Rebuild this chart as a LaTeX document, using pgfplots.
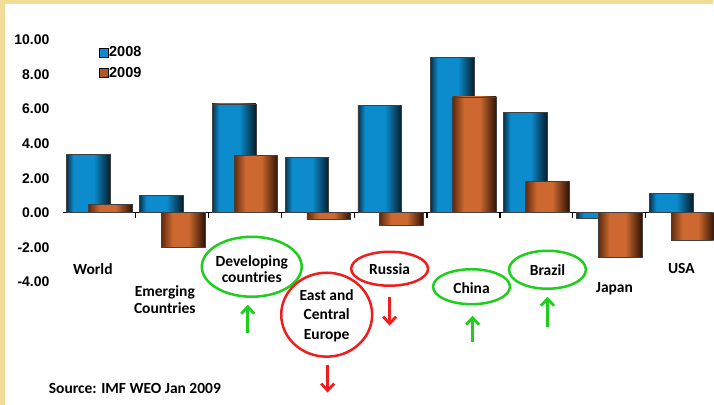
\documentclass[border=0pt]{standalone}
\usepackage{pgfplots}
\pgfplotsset{compat=1.18}
\usepackage{fontspec}
\setmainfont{Carlito}
\newfontfamily\arialf{Liberation Sans}
\usetikzlibrary{shapes.geometric,arrows.meta}
\definecolor{bgyel}{RGB}{241,221,152}
\definecolor{bdark}{RGB}{8,50,78}
\definecolor{bvdark}{RGB}{6,28,42}
\definecolor{bmid}{RGB}{12,140,205}
\definecolor{odark}{RGB}{95,42,14}
\definecolor{ovdark}{RGB}{45,18,5}
\definecolor{omid}{RGB}{205,105,48}
\definecolor{gr}{RGB}{30,205,30}
\definecolor{rd}{RGB}{238,30,30}
\pgfdeclarehorizontalshading{blueshade}{100bp}{color(0bp)=(bdark); color(25bp)=(bdark); color(33bp)=(bmid); color(56bp)=(bmid); color(75bp)=(bvdark); color(100bp)=(bvdark)}
\pgfdeclarehorizontalshading{orangeshade}{100bp}{color(0bp)=(odark); color(25bp)=(odark); color(38bp)=(omid); color(56bp)=(omid); color(75bp)=(ovdark); color(100bp)=(ovdark)}
\pgfplotsset{
  b08/.style={ybar, bar width=0.6, bar shift=-0.15, draw=black!75, line width=0.6pt, shading=blueshade, forget plot},
  b09/.style={ybar, bar width=0.6, bar shift=0.15, draw=black!75, line width=0.6pt, shading=orangeshade, forget plot},
}
\begin{document}
\begin{tikzpicture}[x=1pt,y=1pt]
\fill[white] (0,0) rectangle (714,405);
\fill[bgyel] (0,401) rectangle (714,405);
\fill[bgyel] (0,0) rectangle (5,405);
\begin{axis}[
  at={(63pt,122.8pt)}, anchor=south west,
  scale only axis, width=651pt, height=242.2pt,
  xmin=-0.5, xmax=8.43, ymin=-4, ymax=10,
  axis x line=middle, axis y line=left,
  x axis line style={-, black, line width=1.4pt},
  y axis line style={draw=none},
  hide obscured y ticks=false,
  xtick={-0.5,0.5,...,7.5}, xticklabels={},
  xtick style={black, line width=1.4pt},
  major tick length=5pt, tick align=outside,
  ytick={-4,-2,...,10},
  ytick style={draw=none},
  yticklabel style={font=\arialf\bfseries\fontsize{14}{14}\selectfont, xshift=-5pt},
  /pgf/number format/.cd, fixed, fixed zerofill, precision=2, assume math mode=true,
  /pgfplots/.cd,
  legend style={draw=none, fill=none, at={(0.05,0.99)}, anchor=north west,
    font=\arialf\bfseries\fontsize{14.5}{14.5}\selectfont, row sep=5pt,
    nodes={inner xsep=1pt}},
  legend cell align=left,
]
\addlegendimage{legend image code/.code={\draw[black, line width=0.5pt, fill=bmid] (0pt,-4.5pt) rectangle (9pt,4.5pt);}}
\addlegendentry{2008}
\addlegendimage{legend image code/.code={\draw[black, line width=0.5pt, fill=omid!85!black] (0pt,-4.5pt) rectangle (9pt,4.5pt);}}
\addlegendentry{2009}
% 2008
\addplot[b08] coordinates {(0,3.4)};
\addplot[b08] coordinates {(1,1.0)};
\addplot[b08] coordinates {(2,6.3)};
\addplot[b08] coordinates {(3,3.2)};
\addplot[b08] coordinates {(4,6.2)};
\addplot[b08] coordinates {(5,9.0)};
\addplot[b08] coordinates {(6,5.8)};
\addplot[b08] coordinates {(7,-0.3)};
\addplot[b08] coordinates {(8,1.1)};
% 2009
\addplot[b09] coordinates {(0,0.5)};
\addplot[b09] coordinates {(1,-2.0)};
\addplot[b09] coordinates {(2,3.3)};
\addplot[b09] coordinates {(3,-0.4)};
\addplot[b09] coordinates {(4,-0.7)};
\addplot[b09] coordinates {(5,6.7)};
\addplot[b09] coordinates {(6,1.8)};
\addplot[b09] coordinates {(7,-2.6)};
\addplot[b09] coordinates {(8,-1.6)};
\end{axis}
\begin{scope}[font=\bfseries\fontsize{15.5}{17}\selectfont]
\node at (93,136) {World};
\node[align=center] at (165,105.5) {Emerging\\Countries};
\node[draw=gr, line width=2.5pt, ellipse, minimum width=100pt, minimum height=60pt, inner sep=0pt] at (252,138) {};
\node[align=center, font=\bfseries\fontsize{15.5}{16}\selectfont] at (252,136) {Developing\\countries};
\node[draw=rd, line width=2.5pt, ellipse, minimum width=91pt, minimum height=84pt, inner sep=0pt] at (327,90) {};
\node[align=center, font=\bfseries\fontsize{15.5}{19.5}\selectfont] at (327,89) {East and\\Central\\Europe};
\node[draw=rd, line width=2.5pt, ellipse, minimum width=77pt, minimum height=34pt, inner sep=0pt] at (390,136) {};
\node at (390,136) {Russia};
\node[draw=gr, line width=2.5pt, ellipse, minimum width=77pt, minimum height=35pt, inner sep=0pt] at (472,118) {};
\node at (472,117) {China};
\node[draw=gr, line width=2.5pt, ellipse, minimum width=77pt, minimum height=38pt, inner sep=0pt] at (548,135) {};
\node at (548,135) {Brazil};
\node at (615,116) {Japan};
\node at (682,136) {USA};
\node[font=\bfseries\fontsize{15.5}{17}\selectfont] at (135,16) {Source: IMF WEO Jan 2009};
\end{scope}
\begin{scope}[line width=2.8pt, arrows={-{Straight Barb[length=7pt,width=13pt]}}]
\draw[gr] (248,72) -- (248,100);
\draw[rd] (328,40) -- (328,12);
\draw[rd] (390,108) -- (390,79);
\draw[gr] (473,63) -- (473,89);
\draw[gr] (548,78) -- (548,108);
\end{scope}
\end{tikzpicture}
\end{document}
